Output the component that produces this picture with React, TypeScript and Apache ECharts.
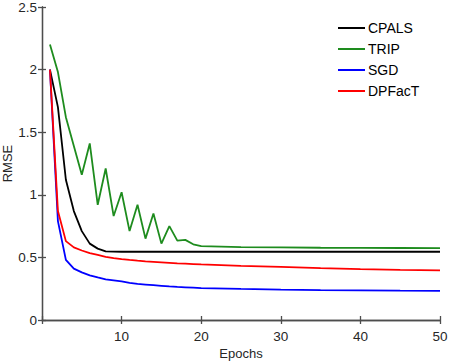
import React, { useEffect, useRef } from "react";
import * as echarts from "echarts";

const epochs = [1, 2, 3, 4, 5, 6, 7, 8, 9, 10, 11, 12, 13, 14, 15, 16, 17, 18, 19, 20, 25, 30, 35, 40, 45, 50];
const cpals = [2.0, 1.7, 1.12, 0.87, 0.71, 0.61, 0.57, 0.548, 0.546, 0.545, 0.545, 0.545, 0.545, 0.545, 0.545, 0.545, 0.545, 0.545, 0.545, 0.545, 0.545, 0.545, 0.545, 0.545, 0.545, 0.545];
const trip = [2.2, 1.98, 1.62, 1.39, 1.16, 1.41, 0.92, 1.21, 0.83, 1.02, 0.71, 0.92, 0.65, 0.85, 0.61, 0.75, 0.634, 0.64, 0.605, 0.59, 0.582, 0.58, 0.577, 0.576, 0.575, 0.574];
const sgd = [2.0, 0.79, 0.48, 0.41, 0.38, 0.357, 0.34, 0.325, 0.317, 0.308, 0.297, 0.288, 0.283, 0.278, 0.273, 0.268, 0.264, 0.261, 0.258, 0.255, 0.248, 0.242, 0.238, 0.236, 0.234, 0.233];
const dpfact = [2.0, 0.87, 0.63, 0.58, 0.555, 0.535, 0.52, 0.505, 0.495, 0.487, 0.48, 0.474, 0.469, 0.465, 0.461, 0.457, 0.453, 0.45, 0.447, 0.444, 0.433, 0.424, 0.415, 0.407, 0.401, 0.397];

const seriesNames = ["CPALS", "TRIP", "SGD", "DPFacT"];
const seriesValues = [cpals, trip, sgd, dpfact];
const seriesColors = ["#000000", "#1e8c1e", "#0000ff", "#ff0000"];

const FONT = "'Liberation Sans', Arial, Helvetica, sans-serif";
const AXIS_COLOR = "#4d4d4d";
const TEXT_COLOR = "#262626";

export default function App() {
  const ref = useRef<HTMLDivElement>(null);
  useEffect(() => {
    if (!ref.current) return;
    const chart = echarts.init(ref.current, undefined, { renderer: "svg" });
    const axisLine = { show: true, lineStyle: { color: AXIS_COLOR, width: 1.3 } };
    const tick = { show: true, inside: true, length: 4, lineStyle: { color: AXIS_COLOR, width: 1.3 } };
    chart.setOption({
      animation: false,
      backgroundColor: "#ffffff",
      textStyle: { fontFamily: FONT },
      grid: { left: 42, right: 10, top: 7, bottom: 42, containLabel: false, outerBoundsMode: "none" },
      legend: {
        orient: "vertical",
        left: 338,
        top: 21,
        padding: 0,
        itemWidth: 27,
        itemHeight: 2,
        itemGap: 7,
        icon: "rect",
        data: seriesNames,
        textStyle: { fontSize: 14, color: "#000", fontFamily: FONT, lineHeight: 14, padding: [0, 0, 0, -2] },
      },
      xAxis: [
        {
          type: "value",
          min: 0,
          max: 50,
          interval: 10,
          name: "Epochs",
          nameLocation: "middle",
          nameGap: 27,
          nameMoveOverlap: false,
          nameTextStyle: { fontSize: 13, color: TEXT_COLOR, fontFamily: FONT },
          axisLine,
          axisTick: tick,
          splitLine: { show: false },
          axisLabel: {
            fontSize: 13.5,
            color: TEXT_COLOR,
            margin: 9,
            fontFamily: FONT,
            formatter: (v: number) => (v === 0 ? "" : String(v)),
          },
        },
        {
          type: "value",
          position: "top",
          min: 0,
          max: 50,
          interval: 10,
          axisLine,
          axisTick: tick,
          splitLine: { show: false },
          axisLabel: { show: false },
        },
      ],
      yAxis: [
        {
          type: "value",
          min: 0,
          max: 2.5,
          interval: 0.5,
          name: "RMSE",
          nameLocation: "middle",
          nameGap: 28,
          nameMoveOverlap: false,
          nameTextStyle: { fontSize: 13, color: TEXT_COLOR, fontFamily: FONT },
          axisLine,
          axisTick: tick,
          splitLine: { show: false },
          axisLabel: { fontSize: 13.5, color: TEXT_COLOR, margin: 5, fontFamily: FONT },
        },
        {
          type: "value",
          position: "right",
          min: 0,
          max: 2.5,
          interval: 0.5,
          axisLine,
          axisTick: tick,
          splitLine: { show: false },
          axisLabel: { show: false },
        },
      ],
      series: seriesNames.map((name, i) => ({
        name,
        type: "line",
        data: epochs.map((e, j) => [e, seriesValues[i][j]]),
        showSymbol: false,
        symbol: "none",
        color: seriesColors[i],
        lineStyle: { color: seriesColors[i], width: 1.8 },
        z: 2 + i,
      })),
    });
    return () => chart.dispose();
  }, []);
  return <div ref={ref} style={{ width: 450, height: 362, position: "absolute", left: 0, top: 0 }} />;
}
